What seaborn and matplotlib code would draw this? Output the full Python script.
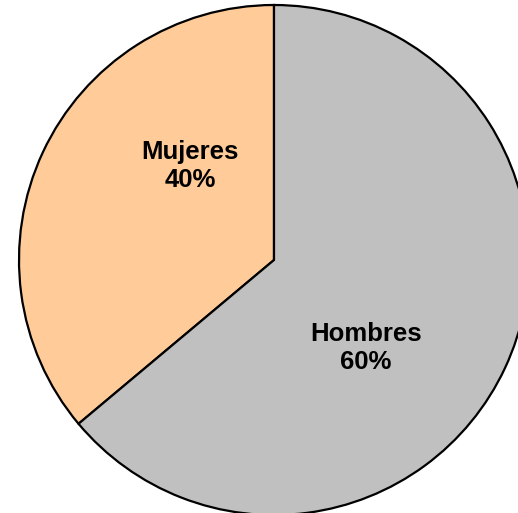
import matplotlib
matplotlib.use("Agg")
import matplotlib.pyplot as plt
import seaborn as sns

# datos
categorias = ["Mujeres", "Hombres"]
valores = [36.1, 63.9]          # share as drawn in the reference
etiquetas_pct = ["40%", "60%"]   # labels as printed
colores = ["#FFCC99", "#C0C0C0"]

sns.set_theme(style="white")
plt.rcParams["font.family"] = ["Liberation Sans", "DejaVu Sans"]

W, H = 518, 513
fig = plt.figure(figsize=(W / 100, H / 100), dpi=100)
cx, cy, r = 274, 260, 255
ax = fig.add_axes([(cx - r) / W, (H - cy - r) / H, 2 * r / W, 2 * r / H])

ax.pie(
    valores,
    colors=colores,
    startangle=90,
    counterclock=True,
    radius=1,
    wedgeprops={"edgecolor": "black", "linewidth": 1.6},
)
ax.set_xlim(-1, 1)
ax.set_ylim(-1, 1)
ax.set_aspect("equal")
ax.axis("off")

posiciones = [(-0.329, 0.369), (0.361, -0.345)]
for cat, pct, (x, y) in zip(categorias, etiquetas_pct, posiciones):
    ax.text(x, y, f"{cat}\n{pct}", ha="center", va="center",
            fontsize=18.5, fontweight="bold", multialignment="center",
            linespacing=1.25, color="black")

fig.savefig("out.png", dpi=100)
